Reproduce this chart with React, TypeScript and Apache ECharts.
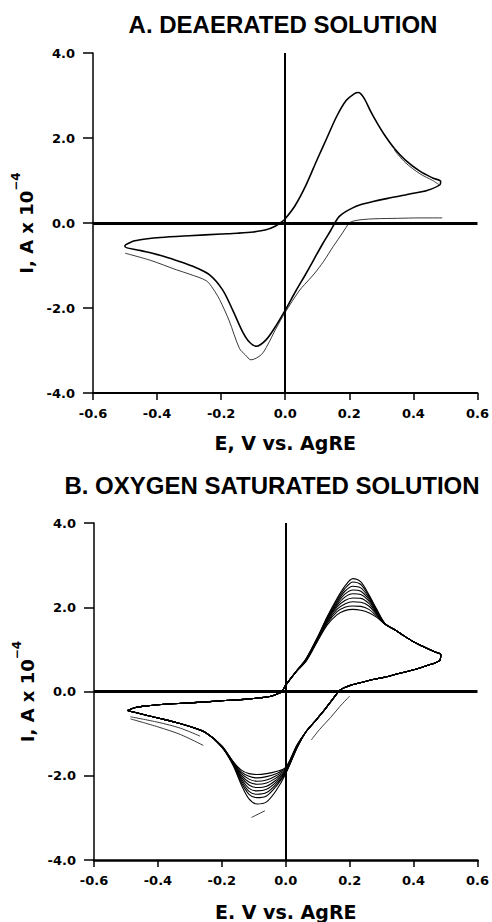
import React, { useEffect, useRef } from "react";
import * as echarts from "echarts";

// ---------- Panel A : deaerated solution (E in V, I in 1e-4 A) ----------
const A_FORWARD: [number, number][] = [
  [-0.5, -0.52], [-0.47, -0.42], [-0.43, -0.37], [-0.39, -0.34], [-0.3, -0.3], [-0.2, -0.26],
  [-0.15, -0.24], [-0.1, -0.21], [-0.06, -0.16], [-0.03, -0.07], [-0.01, 0.03], [0.0, 0.1],
  [0.03, 0.4], [0.064, 0.88], [0.1, 1.5], [0.13, 2.0], [0.16, 2.5], [0.19, 2.88], [0.215, 3.04],
  [0.228, 3.07], [0.245, 2.95], [0.267, 2.62], [0.287, 2.35], [0.31, 2.07], [0.34, 1.76],
  [0.375, 1.48], [0.42, 1.22], [0.46, 1.06], [0.485, 0.98],
];
const A_REVERSE: [number, number][] = [
  [0.485, 0.98], [0.483, 0.9], [0.44, 0.76], [0.4, 0.7], [0.375, 0.66], [0.32, 0.58], [0.271, 0.5],
  [0.23, 0.42], [0.209, 0.35], [0.185, 0.25], [0.168, 0.15], [0.157, 0.03], [0.14, -0.2],
  [0.116, -0.5], [0.09, -0.85], [0.064, -1.2], [0.033, -1.6], [0.0, -2.05], [-0.029, -2.42],
  [-0.06, -2.75], [-0.09, -2.9], [-0.112, -2.8], [-0.133, -2.56], [-0.164, -2.05], [-0.195, -1.58],
  [-0.236, -1.22], [-0.288, -1.02], [-0.34, -0.88], [-0.391, -0.76], [-0.45, -0.65], [-0.5, -0.56],
  [-0.5, -0.52],
];
const A_FIRST_SCAN: [number, number][] = [
  [0.49, 0.12], [0.42, 0.12], [0.35, 0.11], [0.28, 0.1], [0.24, 0.08], [0.215, 0.05], [0.2, 0.0],
  [0.18, -0.22], [0.15, -0.55], [0.12, -0.9], [0.09, -1.2], [0.06, -1.45], [0.043, -1.6],
  [0.0, -2.1], [-0.03, -2.5], [-0.055, -2.87], [-0.075, -3.1], [-0.107, -3.22], [-0.125, -3.1],
  [-0.143, -2.95], [-0.175, -2.3], [-0.205, -1.8], [-0.225, -1.55], [-0.246, -1.36],
  [-0.3, -1.2], [-0.34, -1.1], [-0.42, -0.88], [-0.5, -0.71],
];
const A_SECOND_DECAY: [number, number][] = [
  [0.34, 1.72], [0.375, 1.42], [0.42, 1.16], [0.46, 1.0], [0.48, 0.9],
];

// ---------- Panel B : oxygen saturated solution ----------
const B_FORWARD: [number, number][] = [
  [-0.495, -0.45], [-0.47, -0.38], [-0.43, -0.34], [-0.39, -0.31], [-0.3, -0.27], [-0.2, -0.22],
  [-0.12, -0.18], [-0.08, -0.15], [-0.05, -0.12], [-0.03, -0.07], [-0.012, 0.0], [0.0, 0.15],
  [0.03, 0.45],
];
const B_ANODIC_E = [0.064, 0.1, 0.13, 0.16, 0.185, 0.21, 0.235, 0.26, 0.285, 0.31];
const B_ANODIC_I = [
  [0.78, 1.3, 1.78, 2.2, 2.5, 2.68, 2.6, 2.3, 1.95, 1.62],
  [0.78, 1.29, 1.76, 2.16, 2.44, 2.6, 2.54, 2.27, 1.93, 1.62],
  [0.77, 1.28, 1.74, 2.12, 2.38, 2.5, 2.46, 2.23, 1.91, 1.61],
  [0.76, 1.27, 1.72, 2.08, 2.31, 2.41, 2.38, 2.19, 1.89, 1.61],
  [0.76, 1.26, 1.7, 2.04, 2.24, 2.32, 2.3, 2.15, 1.87, 1.61],
  [0.75, 1.25, 1.68, 2.0, 2.16, 2.22, 2.21, 2.09, 1.85, 1.6],
  [0.74, 1.23, 1.65, 1.95, 2.08, 2.13, 2.12, 2.03, 1.82, 1.6],
  [0.73, 1.22, 1.62, 1.89, 2.0, 2.03, 2.02, 1.95, 1.79, 1.6],
  [0.72, 1.2, 1.58, 1.82, 1.92, 1.95, 1.93, 1.87, 1.76, 1.6],
];
const B_ANODIC_TAIL: [number, number][] = [
  [0.345, 1.45], [0.37, 1.32], [0.4, 1.18], [0.44, 1.03], [0.47, 0.93], [0.485, 0.88],
];
const B_REVERSE: [number, number][] = [
  [0.482, 0.74], [0.44, 0.61], [0.407, 0.53], [0.35, 0.42], [0.303, 0.33], [0.26, 0.26],
  [0.23, 0.2], [0.2, 0.14], [0.18, 0.08], [0.168, 0.02], [0.15, -0.15], [0.12, -0.45],
  [0.09, -0.72], [0.064, -0.95],
];
const B_CATHODIC_E = [0.035, 0.0, -0.03, -0.06, -0.09, -0.115, -0.14, -0.165, -0.2];
const B_CATHODIC_I = [
  [-1.35, -1.95, -2.35, -2.62, -2.67, -2.55, -2.2, -1.75, -1.32],
  [-1.34, -1.93, -2.25, -2.48, -2.52, -2.44, -2.15, -1.73, -1.32],
  [-1.33, -1.92, -2.2, -2.4, -2.44, -2.37, -2.1, -1.72, -1.31],
  [-1.32, -1.9, -2.15, -2.32, -2.36, -2.3, -2.06, -1.71, -1.31],
  [-1.31, -1.88, -2.1, -2.25, -2.28, -2.22, -2.02, -1.7, -1.3],
  [-1.3, -1.86, -2.05, -2.17, -2.2, -2.15, -1.98, -1.69, -1.3],
  [-1.29, -1.84, -2.0, -2.1, -2.13, -2.08, -1.94, -1.68, -1.3],
  [-1.28, -1.82, -1.95, -2.02, -2.05, -2.01, -1.9, -1.67, -1.29],
  [-1.27, -1.8, -1.9, -1.95, -1.97, -1.95, -1.86, -1.66, -1.29],
];
const B_CATHODIC_TAIL: [number, number][] = [
  [-0.25, -0.98], [-0.3, -0.83], [-0.34, -0.74], [-0.4, -0.63], [-0.433, -0.57], [-0.47, -0.5],
  [-0.495, -0.45],
];
const B_FIRST_SEGMENTS: [number, number][][] = [
  [[0.2, -0.11], [0.17, -0.35], [0.14, -0.62], [0.106, -0.9], [0.08, -1.15]],
  [[-0.065, -2.83], [-0.107, -2.99]],
  [[-0.268, -1.06], [-0.33, -0.87], [-0.4, -0.73], [-0.486, -0.6]],
  [[-0.258, -1.28], [-0.33, -1.02], [-0.4, -0.84], [-0.486, -0.65]],
];

const TITLES = ["A. DEAERATED SOLUTION", "B. OXYGEN SATURATED SOLUTION"];
const X_NAMES = ["E, V vs. AgRE", "E. V vs. AgRE"];

const FONT = "DejaVu Sans";

export default function App() {
  const ref = useRef<HTMLDivElement>(null);
  useEffect(() => {
    if (!ref.current) return;
    const chart = echarts.init(ref.current, undefined, { renderer: "svg" });
    const axisLineStyle = { color: "#000", width: 1.5 };
    const fmt = (v: number) => (Math.abs(v) < 1e-9 ? "0.0" : v.toFixed(1));

    const xAxis = [0, 1].map((i) => ({
      type: "value",
      gridIndex: i,
      min: -0.6,
      max: 0.6,
      interval: 0.2,
      name: X_NAMES[i],
      nameLocation: "middle",
      nameGap: i === 0 ? 40 : 42,
      nameTextStyle: { fontFamily: FONT, fontWeight: "bold", fontSize: 19, color: "#000" },
      axisLine: { show: true, onZero: false, lineStyle: { color: "#000", width: i === 0 ? 1.8 : 2.5 } },
      axisTick: { show: true, inside: false, length: 7, lineStyle: axisLineStyle },
      axisLabel: { margin: 14, formatter: fmt, fontFamily: FONT, fontWeight: "bold", fontSize: 13, color: "#000" },
      splitLine: { show: false },
    }));
    const yAxis = [0, 1].map((i) => ({
      type: "value",
      gridIndex: i,
      min: -4,
      max: 4,
      interval: 2,
      name: "{a|I, A x 10}{b|\u22124}",
      nameLocation: "middle",
      nameRotate: 90,
      nameGap: 54,
      nameTextStyle: {
        fontFamily: FONT, fontWeight: "bold", fontSize: 18, color: "#000",
        rich: {
          a: { fontFamily: FONT, fontWeight: "bold", fontSize: 18, lineHeight: 26, verticalAlign: "bottom", color: "#000" },
          b: { fontFamily: FONT, fontWeight: "bold", fontSize: 12, lineHeight: 12, verticalAlign: "top", color: "#000" },
        },
      },
      axisLine: { show: true, onZero: false, lineStyle: axisLineStyle },
      axisTick: { show: true, inside: false, length: 10, lineStyle: axisLineStyle },
      axisLabel: { margin: 18, formatter: fmt, fontFamily: FONT, fontWeight: "bold", fontSize: 13, color: "#000" },
      splitLine: { show: false },
    }));

    const zeroLines = {
      silent: true,
      symbol: ["none", "none"],
      label: { show: false },
      lineStyle: { color: "#000", width: 3, type: "solid" },
      data: [{ yAxis: 0 }, { xAxis: 0, lineStyle: { width: 2, color: "#000", type: "solid" } }],
    };

    const thick = (data: [number, number][], idx: number, extra: any = {}) => ({
      type: "line",
      xAxisIndex: idx,
      yAxisIndex: idx,
      data,
      symbol: "none",
      smooth: 0.3,
      lineStyle: { color: "#000", width: 1.6 },
      z: 3,
      ...extra,
    });
    const thin = (data: [number, number][], idx: number) => ({
      type: "line",
      xAxisIndex: idx,
      yAxisIndex: idx,
      data,
      symbol: "none",
      smooth: 0.3,
      lineStyle: { color: "#222", width: 0.9 },
      z: 2,
    });

    const series: any[] = [];
    series.push(thick([...A_FORWARD, ...A_REVERSE], 0, { markLine: zeroLines }));
    series.push(thin(A_FIRST_SCAN, 0));
    series.push(thin(A_SECOND_DECAY, 0));

    for (let k = 0; k < B_ANODIC_I.length; k++) {
      const anodic = B_ANODIC_E.map((e, j) => [e, B_ANODIC_I[k][j]] as [number, number]);
      const cathodic = B_CATHODIC_E.map((e, j) => [e, B_CATHODIC_I[k][j]] as [number, number]);
      const data = [...B_FORWARD, ...anodic, ...B_ANODIC_TAIL, ...B_REVERSE, ...cathodic, ...B_CATHODIC_TAIL];
      series.push(thick(data, 1, { lineStyle: { color: "#000", width: 1.1 }, ...(k === 0 ? { markLine: zeroLines } : {}) }));
    }
    B_FIRST_SEGMENTS.forEach((seg) => series.push(thin(seg, 1)));

    const titleStyle = (text: string) => ({
      text,
      fontFamily: "Liberation Sans",
      fontWeight: "bold",
      fontSize: 24,
      fill: "#000",
      align: "center",
      verticalAlign: "middle",
      textAlign: "center",
      textVerticalAlign: "middle",
    });

    chart.setOption({
      animation: false,
      backgroundColor: "#fff",
      grid: [
        { left: 93, top: 53, width: 386, height: 340 },
        { left: 94, top: 523, width: 385, height: 338 },
      ],
      xAxis,
      yAxis,
      graphic: [
        { type: "text", x: 283, y: 24, style: titleStyle(TITLES[0]) },
        { type: "text", x: 272, y: 485, style: titleStyle(TITLES[1]) },
      ],
      series,
    });
    return () => chart.dispose();
  }, []);
  return <div ref={ref} style={{ position: "fixed", left: 0, top: 0, width: 492, height: 922 }} />;
}
